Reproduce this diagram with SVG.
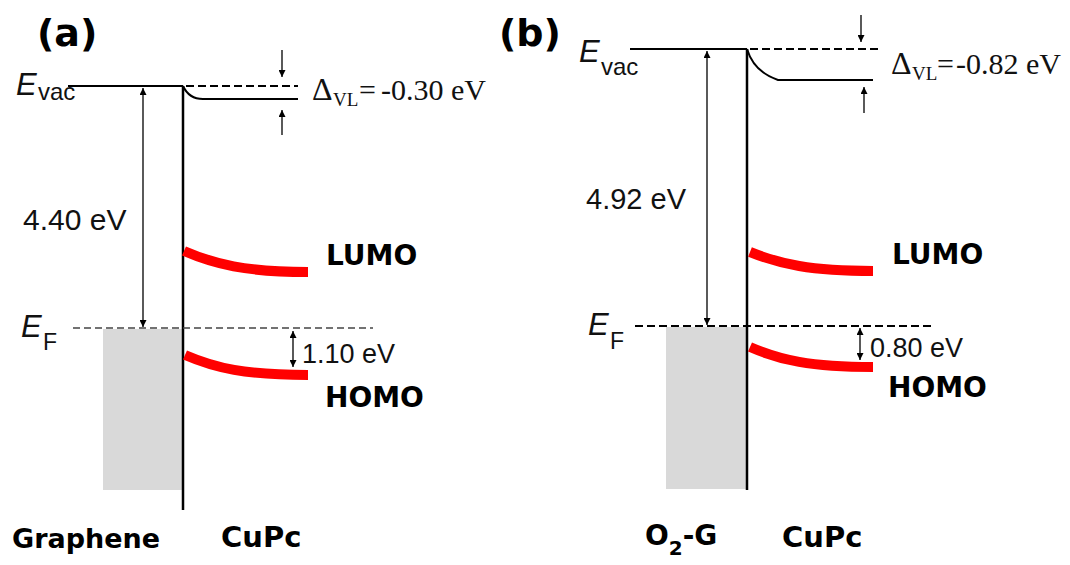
<svg xmlns="http://www.w3.org/2000/svg" width="1070" height="565" viewBox="0 0 1070 565">
<style>
.bold{font-family:"DejaVu Sans",sans-serif;font-weight:bold;fill:#000}
.sans{font-family:"Liberation Sans",Arial,sans-serif;fill:#111}
.serif{font-family:"Liberation Serif","Times New Roman",serif;fill:#111}
.lvl{fill:none;stroke:#000;stroke-width:2}
.dash{fill:none;stroke:#000;stroke-width:2;stroke-dasharray:8 4}
.arr{fill:none;stroke:#000;stroke-width:1.3}
.orb{fill:none;stroke:#ff0000;stroke-width:10}
.iface{stroke:#000;stroke-width:2.5}
.metal{fill:#d9d9d9}
</style>
<defs>
<marker id="ah" viewBox="0 0 10 10" refX="10" refY="5" markerWidth="9" markerHeight="7" markerUnits="userSpaceOnUse" orient="auto-start-reverse">
<path d="M0,0 L10,5 L0,10 Z" fill="#000"/>
</marker>
</defs>

<!-- Panel (a) -->
<g id="panel-a-label"><text class="bold" x="37" y="46" font-size="38">(a)</text></g>
<g id="a-metal"><rect class="metal" x="103" y="329" width="79" height="161"/></g>
<g id="a-interface"><line class="iface" x1="183" y1="86" x2="183" y2="510"/></g>
<g id="a-vac">
<line class="lvl" x1="68" y1="86" x2="183" y2="86"/>
<line class="dash" x1="186" y1="86" x2="298" y2="86"/>
<path class="lvl" d="M183,86 Q189,99 203,99 L298,99"/>
<text class="sans" x="16" y="95" font-size="31" font-style="italic">E</text>
<text class="sans" x="38" y="100" font-size="24">vac</text>
</g>
<g id="a-ef">
<line x1="73" y1="328" x2="373" y2="328" stroke="#444" stroke-width="1.3" stroke-dasharray="7 4"/>
<text class="sans" x="21" y="337" font-size="31" font-style="italic">E</text>
<text class="sans" x="43" y="350" font-size="23">F</text>
</g>
<g id="a-lumo">
<path class="orb" d="M184,251 C214,264 245,272 308,272"/>
<text class="bold" x="326" y="265" font-size="28">LUMO</text>
</g>
<g id="a-homo">
<path class="orb" d="M185,355 C215,368 245,375 308,375"/>
<text class="bold" x="325" y="407" font-size="28">HOMO</text>
</g>
<g id="a-labels">
<text class="sans" x="23" y="230" font-size="30">4.40 eV</text>
<text class="sans" x="302" y="363" font-size="27">1.10 eV</text>
<text class="serif" x="312" y="100" font-size="32">Δ</text>
<text class="serif" x="333" y="106" font-size="19">VL</text>
<text class="serif" x="359" y="100" font-size="30">=</text>
<text class="serif" x="381" y="100" font-size="30">-0.30 eV</text>
<text class="bold" x="12" y="548" font-size="27">Graphene</text>
<text class="bold" x="221" y="547" font-size="29">CuPc</text>
</g>

<!-- Panel (b) -->
<g id="panel-b-label"><text class="bold" x="499" y="46" font-size="38">(b)</text></g>
<g id="b-metal"><rect class="metal" x="666" y="327" width="80" height="162"/></g>
<g id="b-interface"><line class="iface" x1="747" y1="49" x2="747" y2="490"/></g>
<g id="b-vac">
<line class="lvl" x1="630" y1="49" x2="747" y2="49"/>
<line class="dash" x1="750" y1="49" x2="878" y2="49"/>
<path class="lvl" d="M747,49 Q754,72 778,80 L873,80"/>
<text class="sans" x="579" y="62" font-size="31" font-style="italic">E</text>
<text class="sans" x="601" y="75" font-size="24">vac</text>
</g>
<g id="b-ef">
<line x1="635" y1="326" x2="935" y2="326" stroke="#000" stroke-width="1.8" stroke-dasharray="8 4"/>
<text class="sans" x="588" y="335" font-size="31" font-style="italic">E</text>
<text class="sans" x="610" y="349" font-size="23">F</text>
</g>
<g id="b-lumo">
<path class="orb" d="M750,252 C780,264 810,271 873,271"/>
<text class="bold" x="892" y="264" font-size="28">LUMO</text>
</g>
<g id="b-homo">
<path class="orb" d="M750,347 C780,360 810,367 873,367"/>
<text class="bold" x="888" y="397" font-size="28">HOMO</text>
</g>
<g id="b-labels">
<text class="sans" x="586" y="209" font-size="29">4.92 eV</text>
<text class="sans" x="870" y="357" font-size="27">0.80 eV</text>
<text class="serif" x="891" y="74" font-size="32">Δ</text>
<text class="serif" x="912" y="80" font-size="19">VL</text>
<text class="serif" x="937" y="74" font-size="30">=</text>
<text class="serif" x="956" y="74" font-size="30">-0.82 eV</text>
<text class="bold" x="645" y="545" font-size="28">O<tspan font-size="20" dy="10">2</tspan><tspan dy="-10">-G</tspan></text>
<text class="bold" x="782" y="547" font-size="29">CuPc</text>
</g>

<!-- connectors / arrows -->
<g id="connectors">
<line class="arr" x1="143" y1="88" x2="143" y2="327" marker-start="url(#ah)" marker-end="url(#ah)"/>
<line class="arr" x1="282" y1="50" x2="282" y2="77" marker-end="url(#ah)"/>
<line class="arr" x1="282" y1="135" x2="282" y2="110" marker-end="url(#ah)"/>
<line class="arr" x1="293" y1="331" x2="293" y2="367" marker-start="url(#ah)" marker-end="url(#ah)"/>
<line class="arr" x1="707" y1="51" x2="707" y2="325" marker-start="url(#ah)" marker-end="url(#ah)"/>
<line class="arr" x1="861" y1="15" x2="861" y2="42" marker-end="url(#ah)"/>
<line class="arr" x1="864" y1="113" x2="864" y2="87" marker-end="url(#ah)"/>
<line class="arr" x1="860" y1="328" x2="860" y2="360" marker-start="url(#ah)" marker-end="url(#ah)"/>
</g>
</svg>
